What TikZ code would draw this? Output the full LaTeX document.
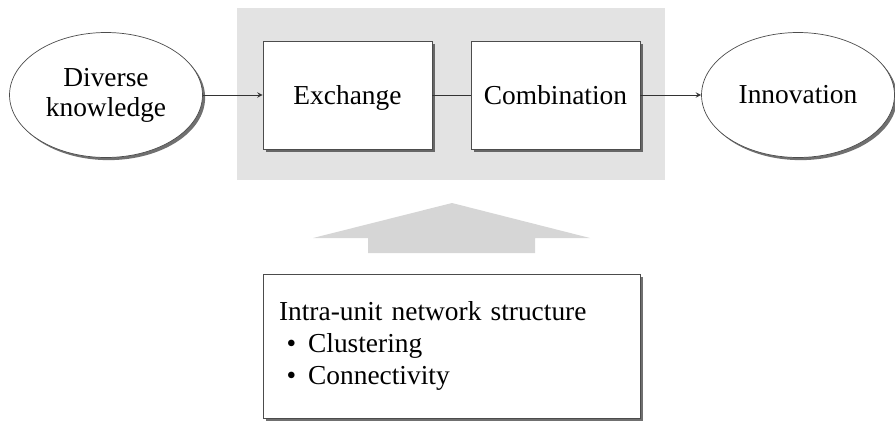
\documentclass[tikz,border=0pt]{standalone}
\usepackage{fontspec}
\setmainfont{Liberation Serif}
\usetikzlibrary{shadows,shapes.geometric}
\begin{document}
\begin{tikzpicture}[x=0.02cm,y=-0.02cm,>=stealth,
  font=\fontsize{15.6}{18}\selectfont,
  shad/.style={drop shadow={shadow xshift=1.5pt,shadow yshift=-1.5pt,opacity=0.7,fill=black!80}},
  stage/.style={rectangle,draw=black!70,fill=white,shad,minimum width=3.38cm,minimum height=2.16cm,text height=2.5ex,text depth=0.2ex},
  oval/.style={ellipse,draw=black!70,fill=white,shad,minimum width=3.86cm,minimum height=2.5cm,align=center,inner sep=1pt}]
\useasboundingbox (0,0) rectangle (895,420);
\fill[black!11] (237,8) rectangle (665,180);
\node[oval] (div) at (106,95) {Diverse\\[-1pt]knowledge};
\node[stage] (exc) at (347.5,95) {Exchange};
\node[stage] (com) at (555.5,95) {Combination};
\node[oval] (inn) at (798,95) {Innovation};
\draw[->,black!80] (div) -- (exc);
\draw[black!80] (exc) -- (com);
\draw[->,black!80] (com) -- (inn);
\fill[black!16] (452,203) -- (590,238) -- (535,238) -- (535,253) -- (368,253) -- (368,238) -- (313,238) -- cycle;
\node[rectangle,draw=black!70,fill=white,shad,minimum width=7.54cm,minimum height=2.88cm,
  text width=6.9cm,inner xsep=0.32cm,align=left] (net) at (451.5,346)
  {Intra-unit network structure\\
   \hspace*{0.15cm}\textbullet\hspace{0.24cm}Clustering\\
   \hspace*{0.15cm}\textbullet\hspace{0.24cm}Connectivity};
\end{tikzpicture}
\end{document}
